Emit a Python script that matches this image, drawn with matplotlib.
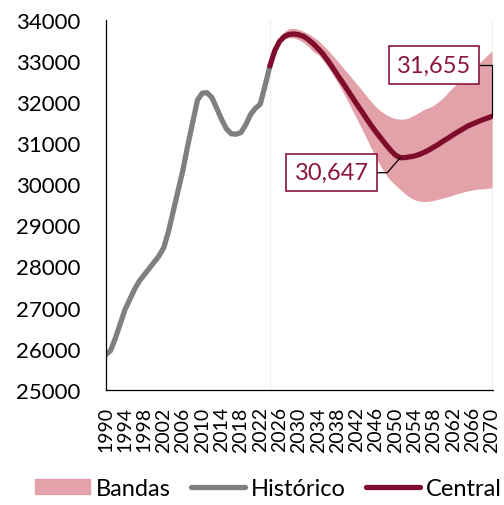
import matplotlib
matplotlib.use("Agg")
import matplotlib.pyplot as plt
from matplotlib.patches import Patch
from matplotlib.lines import Line2D

plt.rcParams['font.family'] = ['Lato', 'DejaVu Sans']

# datos históricos (1990-2024)
hist_years = list(range(1990, 2025))
hist_values = [25850, 25950, 26250, 26600, 26950, 27200, 27450, 27650, 27800, 27950,
               28100, 28250, 28450, 28850, 29350, 29850, 30350, 30950, 31500, 32050,
               32220, 32230, 32110, 31850, 31580, 31350, 31230, 31220, 31260, 31450,
               31700, 31850, 31950, 32400, 32880]

# proyección central y bandas (2024-2070)
proj_years = list(range(2024, 2071))
central = [32880, 33250, 33480, 33600, 33650, 33660, 33640, 33600, 33520, 33420,
           33300, 33170, 33010, 32840, 32660, 32490, 32310, 32130, 31950, 31780,
           31600, 31430, 31270, 31120, 30970, 30830, 30710, 30647, 30650, 30670,
           30690, 30730, 30780, 30840, 30910, 30980, 31060, 31130, 31210, 31280,
           31350, 31420, 31470, 31520, 31570, 31610, 31655]
band_upper = [32880, 33300, 33560, 33720, 33790, 33800, 33770, 33720, 33660, 33590,
              33500, 33390, 33270, 33140, 33000, 32860, 32720, 32580, 32440, 32300,
              32150, 32010, 31880, 31780, 31700, 31640, 31600, 31585, 31590, 31630,
              31690, 31760, 31830, 31870, 31930, 32020, 32120, 32250, 32370, 32480,
              32590, 32700, 32810, 32920, 33030, 33140, 33250]
band_lower = [32880, 33200, 33420, 33530, 33570, 33560, 33520, 33450, 33350, 33230,
              33160, 33020, 32860, 32680, 32480, 32270, 32050, 31820, 31590, 31360,
              31120, 30880, 30650, 30430, 30240, 30090, 29980, 29870, 29770, 29680,
              29620, 29590, 29580, 29590, 29610, 29640, 29670, 29700, 29740, 29780,
              29810, 29840, 29860, 29880, 29890, 29900, 29920]

tick_years = list(range(1990, 2071, 4))

C_GRAY = "#808080"
C_RED = "#7F0C2C"
C_TXT = "#8A1538"
C_BAND = "#E3A1A9"

fig = plt.figure(figsize=(5.04, 5.06), dpi=100)
ax = fig.add_axes([0.2097, 0.2279, 0.7675, 0.7306])

ax.axvline(2024, color="#f0f0f0", lw=0.8, zorder=0)
ax.axvline(2070, color="#f0f0f0", lw=0.8, zorder=0)

ax.fill_between(proj_years, band_lower, band_upper, color=C_BAND, lw=0, zorder=1)
ax.plot(hist_years, hist_values, color=C_GRAY, lw=3.8, solid_capstyle="round",
        solid_joinstyle="round", zorder=2)
ax.plot(proj_years, central, color=C_RED, lw=3.8, solid_capstyle="round",
        solid_joinstyle="round", zorder=3)

# etiquetas de valores
bbox = dict(boxstyle="square,pad=0.35", fc="white", ec=C_TXT, lw=1.2)
i_min = central.index(min(central))
ax.annotate(f"{central[i_min]:,}", xy=(proj_years[i_min], central[i_min]),
            xytext=(2036.8, 30282), ha="center", va="center", fontsize=17,
            color=C_TXT, bbox=bbox, zorder=5,
            arrowprops=dict(arrowstyle="-", color="black", lw=0.9, shrinkA=0, shrinkB=0,
                            connectionstyle="angle,angleA=0,angleB=49,rad=0"))
ax.annotate(f"{central[-1]:,}", xy=(proj_years[-1], central[-1]),
            xytext=(2058.0, 32904), ha="center", va="center", fontsize=17,
            color=C_TXT, bbox=bbox, zorder=5,
            arrowprops=dict(arrowstyle="-", color="black", lw=0.9, shrinkA=0, shrinkB=0,
                            connectionstyle="angle,angleA=0,angleB=90,rad=0"))

ax.set_xlim(1990, 2070.1)
ax.set_ylim(25000, 34000)
ax.set_xticks(tick_years)
ax.set_xticklabels([str(y) for y in tick_years], rotation=90, fontsize=14)
ax.set_yticks(range(25000, 34001, 1000))
ax.tick_params(axis="y", length=0, pad=18, labelsize=16)
ax.tick_params(axis="x", length=0, pad=12)

for s in ["top", "right"]:
    ax.spines[s].set_visible(False)
for s in ["left", "bottom"]:
    ax.spines[s].set_color("black")
    ax.spines[s].set_linewidth(0.9)

handles = [Patch(color=C_BAND, label="Bandas"),
           Line2D([], [], color=C_GRAY, lw=3.8, solid_capstyle="round", label="Histórico"),
           Line2D([], [], color=C_RED, lw=3.8, solid_capstyle="round", label="Central")]
fig.legend(handles=handles, loc="center", bbox_to_anchor=(0.533, 0.032), ncol=3,
           frameon=False, fontsize=17, handlelength=2.3, handleheight=0.6,
           handletextpad=0.25, columnspacing=0.85, borderaxespad=0)

fig.savefig("out.png", dpi=100)
